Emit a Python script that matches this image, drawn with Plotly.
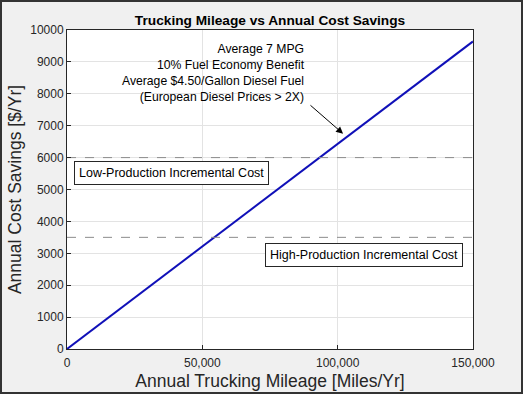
import plotly.graph_objects as go

miles = [0, 50000, 100000, 150000]
savings = [0, 3214, 6429, 9643]
low_cost = 6000
high_cost = 3500
x_ticks = [0, 50000, 100000, 150000]
x_tick_labels = ["0", "50,000", "100,000", "150,000"]
y_ticks = list(range(0, 10001, 1000))

W, H = 523, 394
L, R, T, B = 67, 50, 30, 45
pw, ph = W - L - R, H - T - B

def px_to_paper_x(px):
    return (px - L) / pw

def px_to_paper_y(py):
    return (H - B - py) / ph

font = "Liberation Sans, Arial, sans-serif"

fig = go.Figure()
fig.add_trace(go.Scatter(x=miles, y=savings, mode="lines",
                         line=dict(color="#1010b8", width=2), showlegend=False))
for yv in (low_cost, high_cost):
    fig.add_trace(go.Scatter(x=[0, 150000], y=[yv, yv], mode="lines",
                             line=dict(color="#8c8c8c", width=1, dash="dash"),
                             showlegend=False))

fig.update_layout(
    width=W, height=H,
    margin=dict(l=L, r=R, t=T, b=B),
    paper_bgcolor="#f0f0f0", plot_bgcolor="white",
    font=dict(family=font, size=12, color="#262626"),
    title=dict(text="<b>Trucking Mileage vs Annual Cost Savings</b>",
               x=270 / W, xanchor="center",
               y=1 - 20 / H, yanchor="middle",
               font=dict(size=13.7, color="black")),
    xaxis=dict(range=[0, 150000], tickvals=x_ticks, ticktext=x_tick_labels,
               automargin=False, ticklabelstandoff=3,
               showgrid=True, gridcolor="#e3e3e3", zeroline=False,
               showline=True, linecolor="#262626", linewidth=1, mirror=True,
               ticks="inside", ticklen=4, tickcolor="#262626",
               tickfont=dict(size=12),
               title=dict(text="Annual Trucking Mileage [Miles/Yr]", standoff=5,
                          font=dict(size=17.5, color="#262626"))),
    yaxis=dict(range=[0, 10000], tickvals=y_ticks, tickformat="d",
               automargin=False,
               showgrid=True, gridcolor="#e3e3e3", zeroline=False,
               showline=True, linecolor="#262626", linewidth=1, mirror=True,
               ticks="inside", ticklen=4, tickcolor="#262626",
               tickfont=dict(size=12),
               title=dict(text="Annual Cost Savings [$/Yr]", standoff=4,
                          font=dict(size=17.5, color="#262626"))),
)

fig.add_annotation(
    x=px_to_paper_x(307), y=px_to_paper_y(40), xref="paper", yref="paper",
    text="Average 7 MPG<br>10% Fuel Economy Benefit<br>Average $4.50/Gallon Diesel Fuel<br>(European Diesel Prices > 2X)",
    showarrow=False, xanchor="right", yanchor="top", align="right",
    font=dict(size=12.2, color="black"),
)
fig.add_annotation(
    x=102000, y=6750, xref="x", yref="y",
    ax=89400, ay=7680, axref="x", ayref="y",
    showarrow=True, arrowhead=2, arrowsize=1.4, arrowwidth=1, arrowcolor="black", text="",
)
fig.add_annotation(
    x=px_to_paper_x(74), y=px_to_paper_y(173), xref="paper", yref="paper",
    text="Low-Production Incremental Cost", showarrow=False,
    xanchor="left", yanchor="middle", bgcolor="white",
    bordercolor="#262626", borderwidth=1, borderpad=4,
    font=dict(size=12.5, color="black"),
)
fig.add_annotation(
    x=px_to_paper_x(463), y=px_to_paper_y(255), xref="paper", yref="paper",
    text="High-Production Incremental Cost", showarrow=False,
    xanchor="right", yanchor="middle", bgcolor="white",
    bordercolor="#262626", borderwidth=1, borderpad=4,
    font=dict(size=12.5, color="black"),
)
fig.add_shape(type="rect", xref="paper", yref="paper",
              x0=px_to_paper_x(1), x1=px_to_paper_x(W - 1),
              y0=px_to_paper_y(H - 1), y1=px_to_paper_y(1),
              line=dict(color="#333333", width=2), layer="above")

fig.write_html("out.html", config={"displayModeBar": False},
               post_script="document.body.style.margin='0';document.body.style.overflow='hidden';")
